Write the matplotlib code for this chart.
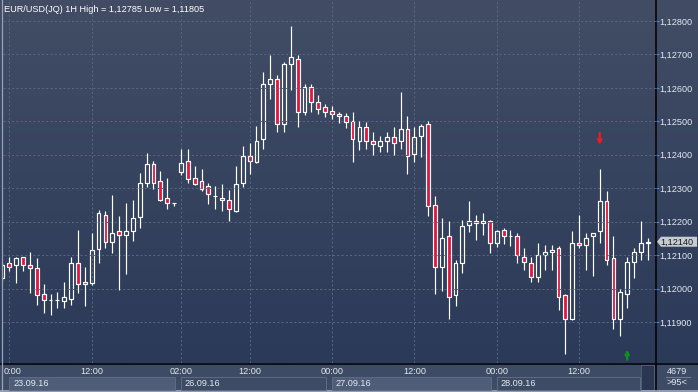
import numpy as np
import matplotlib
matplotlib.use("Agg")
import matplotlib.pyplot as plt
from matplotlib.patches import Rectangle, Polygon
from matplotlib.colors import LinearSegmentedColormap
from matplotlib.transforms import offset_copy

W, H = 698, 392

# hourly bars, index 0 = 23.09.16 00:00
bar_idx = list(range(-1, 94))
opens = [1.12032, 1.12076, 1.12070, 1.12093, 1.12070, 1.12061, 1.11984, 1.11966, 1.11966, 1.11964,
         1.11968, 1.12077, 1.12019, 1.12018, 1.12119, 1.12219, 1.12138, 1.12171, 1.12159, 1.12171,
         1.12215, 1.12315, 1.12372, 1.12321, 1.12270, 1.12256, 1.12349, 1.12381, 1.12330, 1.12321,
         1.12307, 1.12278, 1.12270, 1.12264, 1.12232, 1.12315, 1.12396, 1.12379, 1.12446, 1.12611,
         1.12626, 1.12491, 1.12671, 1.12685, 1.12527, 1.12602, 1.12557, 1.12542, 1.12531, 1.12522,
         1.12515, 1.12500, 1.12440, 1.12482, 1.12440, 1.12425, 1.12440, 1.12452, 1.12440, 1.12476,
         1.12401, 1.12455, 1.12491, 1.12249, 1.12064, 1.12156, 1.11980, 1.12076, 1.12189, 1.12201,
         1.12195, 1.12201, 1.12135, 1.12174, 1.12157, 1.12156, 1.12093, 1.12076, 1.12034, 1.12099,
         1.12108, 1.12120, 1.11980, 1.11908, 1.12135, 1.12129, 1.12156, 1.12171, 1.12261, 1.12090,
         1.11908, 1.11983, 1.12079, 1.12108, 1.12137]
highs = [1.12079, 1.12093, 1.12095, 1.12095, 1.12109, 1.12091, 1.12014, 1.11984, 1.11990, 1.12020,
         1.12095, 1.12175, 1.12065, 1.12166, 1.12235, 1.12232, 1.12280, 1.12217, 1.12257, 1.12265,
         1.12345, 1.12404, 1.12381, 1.12352, 1.12331, 1.12256, 1.12417, 1.12417, 1.12366, 1.12358,
         1.12315, 1.12307, 1.12313, 1.12295, 1.12366, 1.12426, 1.12434, 1.12486, 1.12648, 1.12698,
         1.12639, 1.12677, 1.12785, 1.12698, 1.12612, 1.12612, 1.12579, 1.12552, 1.12546, 1.12528,
         1.12524, 1.12528, 1.12501, 1.12498, 1.12467, 1.12456, 1.12467, 1.12483, 1.12588, 1.12516,
         1.12482, 1.12491, 1.12500, 1.12277, 1.12211, 1.12202, 1.12085, 1.12204, 1.12261, 1.12219,
         1.12225, 1.12206, 1.12175, 1.12181, 1.12175, 1.12165, 1.12120, 1.12093, 1.12135, 1.12129,
         1.12129, 1.12126, 1.11983, 1.12171, 1.12219, 1.12165, 1.12166, 1.12358, 1.12292, 1.12156,
         1.11998, 1.12094, 1.12120, 1.12202, 1.12151]
lows = [1.12023, 1.12053, 1.12018, 1.12053, 1.11988, 1.11952, 1.11928, 1.11922, 1.11943, 1.11943,
        1.11950, 1.11988, 1.11949, 1.12011, 1.12077, 1.12120, 1.12105, 1.11997, 1.12044, 1.12143,
        1.12180, 1.12305, 1.12299, 1.12262, 1.12239, 1.12248, 1.12340, 1.12315, 1.12310, 1.12292,
        1.12254, 1.12239, 1.12233, 1.12202, 1.12230, 1.12305, 1.12343, 1.12375, 1.12418, 1.12566,
        1.12469, 1.12469, 1.12594, 1.12484, 1.12519, 1.12529, 1.12521, 1.12512, 1.12508, 1.12496,
        1.12481, 1.12379, 1.12415, 1.12418, 1.12400, 1.12409, 1.12409, 1.12400, 1.12418, 1.12343,
        1.12379, 1.12394, 1.12216, 1.11983, 1.11994, 1.11908, 1.11949, 1.12046, 1.12168, 1.12144,
        1.12159, 1.12107, 1.12123, 1.12132, 1.12128, 1.12077, 1.12055, 1.12019, 1.12019, 1.12055,
        1.12055, 1.11937, 1.11805, 1.11905, 1.12120, 1.12055, 1.12038, 1.12135, 1.12070, 1.11878,
        1.11857, 1.11943, 1.12031, 1.12084, 1.12084]
closes = [1.12070, 1.12064, 1.12091, 1.12070, 1.12061, 1.11980, 1.11965, 1.11965, 1.11967, 1.11974,
          1.12076, 1.12013, 1.12013, 1.12115, 1.12225, 1.12138, 1.12165, 1.12159, 1.12171, 1.12210,
          1.12315, 1.12372, 1.12315, 1.12264, 1.12255, 1.12255, 1.12375, 1.12327, 1.12314, 1.12299,
          1.12284, 1.12277, 1.12264, 1.12239, 1.12313, 1.12396, 1.12381, 1.12441, 1.12611, 1.12626,
          1.12491, 1.12671, 1.12692, 1.12527, 1.12602, 1.12557, 1.12536, 1.12527, 1.12521, 1.12516,
          1.12497, 1.12446, 1.12482, 1.12440, 1.12431, 1.12440, 1.12452, 1.12434, 1.12476, 1.12395,
          1.12452, 1.12485, 1.12246, 1.12064, 1.12150, 1.11974, 1.12076, 1.12186, 1.12201, 1.12195,
          1.12201, 1.12135, 1.12171, 1.12156, 1.12156, 1.12099, 1.12079, 1.12034, 1.12099, 1.12108,
          1.12114, 1.11974, 1.11908, 1.12135, 1.12129, 1.12150, 1.12165, 1.12261, 1.12084, 1.11908,
          1.11989, 1.12079, 1.12108, 1.12135, 1.12140]

price_ticks = [1.119, 1.120, 1.121, 1.122, 1.123, 1.124, 1.125, 1.126, 1.127, 1.128]
time_idx = [0, 12, 25, 35, 47, 59, 71, 83]
time_labels = ["0:00", "12:00", "02:00", "12:00", "00:00", "12:00", "00:00", "12:00"]
day_start = [0, 25, 47, 71]
day_labels = ["23.09.16", "26.09.16", "27.09.16", "28.09.16"]
sell_signal = 86
buy_signal = 90

title = "EUR/USD(JQ) 1H High = 1,12785 Low = 1,11805"
bars_total = "4679"
bars_shown = ">95<"

FONT = "Liberation Sans"
TXT = "#e4e9f1"
RED = "#e3173e"
FS = 6.6
XLIM = (-0.92, 94.2)
YLIM = (1.117774, 1.128628)


def fmt(p):
    return ("%.5f" % p).replace(".", ",")


fig = plt.figure(figsize=(W / 100, H / 100), dpi=100)

# background layer in pixel coords
bg = fig.add_axes([0, 0, 1, 1])
bg.axis("off")
grad = np.linspace(0, 1, 256).reshape(-1, 1)
cmap = LinearSegmentedColormap.from_list("bg", ["#424d65", "#2b3a59"])
bg.imshow(grad, cmap=cmap, extent=[0, W, 363, 0], aspect="auto")
bg.add_patch(Rectangle((0, 363), W, 29, color="#3e4b65", lw=0))
bg.add_patch(Rectangle((641, 364.5), 13, 25.5, fc="#2b3652", ec="#56627c", lw=0.6))
bg.plot([655.5, 655.5], [0, H], color="black", lw=1.1)
bg.plot([0, W], [363.5, 363.5], color="black", lw=1.1)
bg.plot([2.2, 2.2], [0, H], color="#97a3b8", lw=0.9)
bg.plot([0, W], [391.2, 391.2], color="#a2abbd", lw=1.2)
bg.plot([666, 690], [377.3, 377.3], color="#6f7b94", lw=0.8)
bg.text(677, 371, bars_total, color=TXT, fontsize=FS, family=FONT, ha="center", va="center")
bg.text(677, 382.6, bars_shown, color=TXT, fontsize=FS, family=FONT, ha="center", va="center")
bg.set_xlim(0, W)
bg.set_ylim(H, 0)

# main price panel
ax = fig.add_axes([3 / W, 29 / H, 653 / W, 363 / H])
ax.patch.set_alpha(0)
for s in ax.spines.values():
    s.set_visible(False)
ax.set_xlim(*XLIM)
ax.set_ylim(*YLIM)
ax.set_xticks(time_idx)
ax.set_xticklabels([])
ax.set_yticks(price_ticks)
ax.set_yticklabels([fmt(p) for p in price_ticks], family=FONT)
ax.yaxis.tick_right()
ax.tick_params(axis="x", length=0)
ax.tick_params(axis="y", length=2.2, width=0.8, color="#3f86e0", pad=0.2,
               labelsize=FS, labelcolor=TXT)
ax.grid(True, color="#5a6680", lw=0.7, linestyle=(0, (2.2, 2.2)))

bw = 0.56
for i, o, h, l, c in zip(bar_idx, opens, highs, lows, closes):
    top, bot = max(o, c), min(o, c)
    ax.plot([i, i], [top, h], color="white", lw=0.85, solid_capstyle="butt")
    ax.plot([i, i], [l, bot], color="white", lw=0.85, solid_capstyle="butt")
    fc = "none" if c >= o else RED
    ax.add_patch(Rectangle((i - bw / 2, bot), bw, top - bot, fc=fc, ec="white", lw=0.85))

ax.text(0.0015, 0.987, title, transform=ax.transAxes, color="white", fontsize=FS,
        family=FONT, ha="left", va="top")

# signal arrows
k = bar_idx.index(sell_signal)
ax.annotate("", xy=(sell_signal, highs[k]),
            xycoords=offset_copy(ax.transData, fig=fig, y=24, units="dots"),
            xytext=(sell_signal, highs[k]),
            textcoords=offset_copy(ax.transData, fig=fig, y=36, units="dots"),
            arrowprops=dict(arrowstyle="->", color="#ee1c1c", lw=1.6,
                            shrinkA=0, shrinkB=0, mutation_scale=6))
k = bar_idx.index(buy_signal)
ax.annotate("", xy=(buy_signal, lows[k]),
            xycoords=offset_copy(ax.transData, fig=fig, y=-42, units="dots"),
            xytext=(buy_signal, lows[k]),
            textcoords=offset_copy(ax.transData, fig=fig, y=-52, units="dots"),
            arrowprops=dict(arrowstyle="->", color="#11901e", lw=1.6,
                            shrinkA=0, shrinkB=0, mutation_scale=6))

# last price tag
fig.canvas.draw()
py = H - ax.transData.transform((0, closes[-1]))[1]
bg.add_patch(Polygon([(657, py), (661, py - 5), (697, py - 5), (697, py + 5), (661, py + 5)],
                     closed=True, fc="#c6cad1", ec="none"))
bg.text(660.5, py + 0.3, fmt(closes[-1]), color="#1b1b1b", fontsize=FS, family=FONT,
        ha="left", va="center")

# time / date strip
sx = fig.add_axes([3 / W, 0, 653 / W, 29 / H])
sx.axis("off")
sx.set_xlim(*XLIM)
sx.set_ylim(0, 29)
for j, (s, lab) in enumerate(zip(day_start, day_labels)):
    e = day_start[j + 1] - 0.8 if j + 1 < len(day_start) else 91.9
    fc = "#4f5d79" if j % 2 == 0 else "#3e4b65"
    sx.add_patch(Rectangle((s, 2), e - s, 13, fc=fc, ec="#5e6b86", lw=0.7))
    sx.text(s, 9.0, lab, color=TXT, fontsize=FS, family=FONT, ha="left", va="center",
            transform=offset_copy(sx.transData, fig=fig, x=4, units="dots"))
for n, (i, lab) in enumerate(zip(time_idx, time_labels)):
    if n == 0:
        # first label sits against the left edge of the strip
        sx.text(0.001, 21, lab, color=TXT, fontsize=FS, family=FONT, ha="left",
                va="center", transform=sx.get_yaxis_transform())
    else:
        sx.text(i, 21, lab, color=TXT, fontsize=FS, family=FONT, ha="center", va="center")

fig.savefig("out.png", dpi=100)
